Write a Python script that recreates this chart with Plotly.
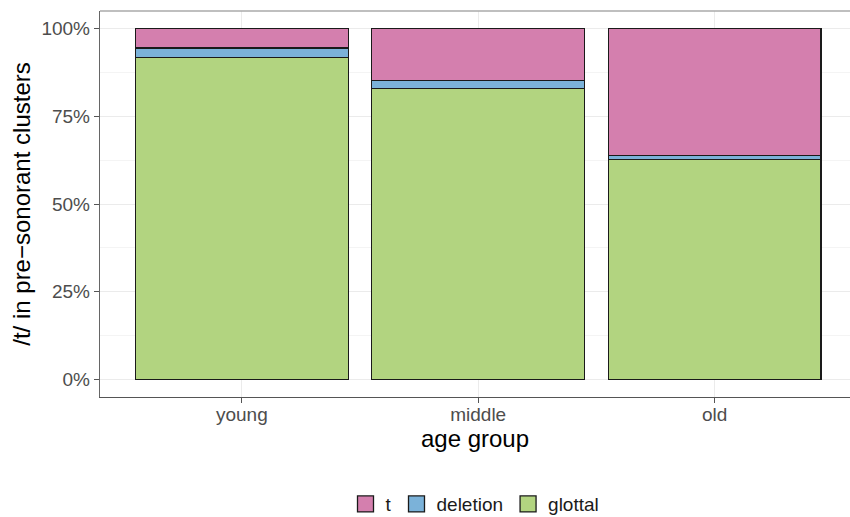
import plotly.graph_objects as go

groups = ["young", "middle", "old"]
glottal = [91.8, 82.9, 62.7]
deletion = [2.7, 2.2, 1.2]
t_vals = [5.5, 14.9, 36.1]

series = [("glottal", glottal, "#B2D480"), ("deletion", deletion, "#7BB2D9"), ("t", t_vals, "#D47FAE")]

fig = go.Figure()
for name, vals, col in series:
    fig.add_trace(go.Bar(x=groups, y=vals, name=name, width=0.9, showlegend=False,
                         marker=dict(color=col, line=dict(color="#1a1a1a", width=1.3))))
# legend keys
for name, vals, col in series:
    fig.add_trace(go.Scatter(x=[None], y=[None], mode="markers", name=name,
                             marker=dict(symbol="square", size=22, color=col,
                                         line=dict(color="#1a1a1a", width=1.3))))

grid = "#ebebeb"
fig.update_layout(
    width=850, height=517,
    barmode="stack",
    plot_bgcolor="white", paper_bgcolor="white",
    font=dict(family="Liberation Sans, Arial, sans-serif", color="#000000"),
    margin=dict(l=100, r=0, t=11, b=120),
    showlegend=True,
    legend=dict(orientation="h", x=0.5, xanchor="center", yref="container", y=0.025, yanchor="middle",
                traceorder="reversed", font=dict(size=19, color="#1a1a1a"),
                itemsizing="trace"),
    shapes=[dict(type="line", xref="paper", yref="paper", x0=0, x1=1, y0=1, y1=1,
                 line=dict(color="#aaaaaa", width=1.5))],
    xaxis=dict(
        type="category", range=[-0.6, 2.573],
        showline=True, linecolor="#555555", linewidth=1.4,
        ticks="outside", ticklen=5, tickcolor="#555555",
        tickfont=dict(size=19, color="#4d4d4d"), ticklabelstandoff=-5,
        showgrid=True, gridcolor=grid, gridwidth=1.2,
        title=dict(text="age group", font=dict(size=24, color="#000000"), standoff=6),
    ),
    yaxis=dict(
        range=[-5, 105], tickvals=[0, 25, 50, 75, 100],
        ticktext=["0%", "25%", "50%", "75%", "100%"],
        showline=True, linecolor="#666666", linewidth=1.4,
        ticks="outside", ticklen=5, tickcolor="#555555",
        tickfont=dict(size=19, color="#4d4d4d"),
        showgrid=True, gridcolor=grid, gridwidth=1.2,
        minor=dict(tickvals=[12.5, 37.5, 62.5, 87.5], showgrid=True, gridcolor="#f4f4f4", gridwidth=1),
        zeroline=False,
        title=dict(text="/t/ in pre\u2212sonorant clusters", font=dict(size=24, color="#000000"), standoff=3),
    ),
)

fig.write_html("out.html", config={"displayModeBar": False},
               post_script="document.body.style.margin='0';document.body.style.overflow='hidden';")
